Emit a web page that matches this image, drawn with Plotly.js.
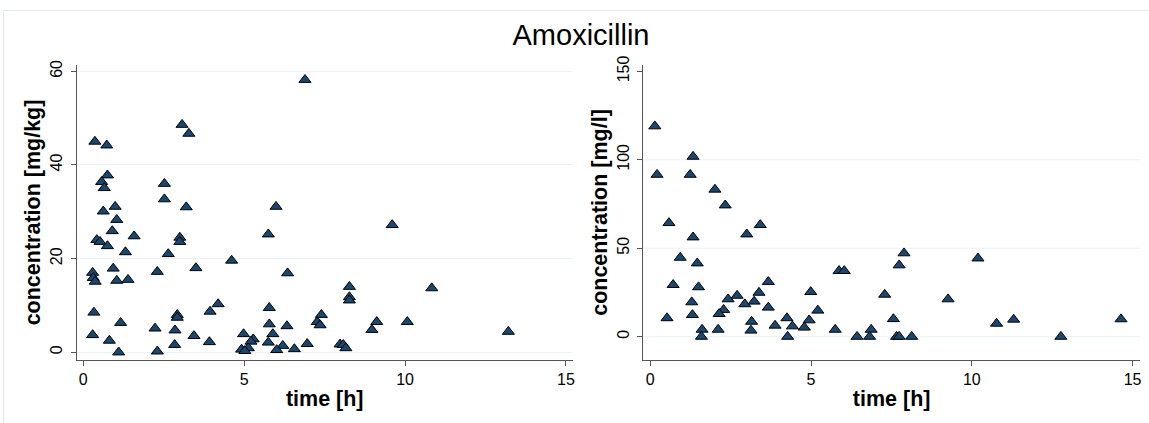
<!DOCTYPE html>
<html>
<head>
<meta charset="utf-8">
<script src="https://cdn.plot.ly/plotly-3.0.1.min.js"></script>
<style>
  html, body { margin: 0; padding: 0; background: #ffffff; }
  #chart { width: 1149px; height: 423px; }
</style>
</head>
<body>
<div id="chart"></div>
<script>
// Amoxicillin concentration over time: tissue (mg/kg) and plasma (mg/l)
const tissueTime = [
  0.36, 0.73, 0.75, 0.57, 0.65, 0.99, 0.62, 1.04, 0.90, 1.58,
  0.42, 0.52, 0.75, 1.31, 0.93, 0.29, 0.31, 0.37, 1.04, 1.39,
  0.33, 0.29, 0.81, 1.16, 1.10, 2.30, 2.52, 2.52, 2.64, 3.07,
  3.28, 3.20, 3.00, 3.00, 3.50, 4.61, 2.23, 2.30, 2.85, 2.92,
  2.92, 2.84, 3.44, 3.94, 4.19, 3.92, 5.99, 5.75, 9.60, 6.35,
  8.27, 8.27, 8.27, 5.78, 7.40, 7.27, 7.36, 9.12, 8.97, 10.07,
  5.78, 6.33, 5.89, 5.75, 6.20, 6.01, 6.56, 6.96, 7.98, 8.08,
  8.16, 4.98, 5.28, 5.21, 5.13, 4.92, 5.02, 6.89, 10.83, 13.21
];
const tissueConc = [
  45.0, 44.2, 37.8, 36.4, 35.1, 31.1, 30.1, 28.3, 25.9, 24.8,
  24.0, 23.6, 22.7, 21.4, 17.9, 17.0, 15.9, 15.1, 15.3, 15.5,
  8.5, 3.7, 2.5, 6.3, 0.0, 17.2, 36.0, 32.7, 21.0, 48.6,
  46.7, 31.0, 24.5, 23.6, 18.0, 19.6, 5.1, 0.2, 4.7, 8.0,
  7.4, 1.6, 3.5, 8.7, 10.3, 2.2, 31.1, 25.2, 27.2, 16.9,
  14.0, 11.8, 11.1, 9.5, 8.0, 6.5, 5.8, 6.5, 4.8, 6.5,
  6.0, 5.6, 3.9, 2.1, 1.4, 0.5, 0.7, 1.8, 1.7, 1.6,
  0.9, 3.9, 2.8, 2.3, 0.9, 0.6, 0.3, 58.2, 13.7, 4.4
];

const plasmaTime = [
  0.14, 1.33, 0.21, 1.24, 2.01, 2.33, 0.58, 3.42, 3.00, 1.33,
  0.93, 1.46, 5.87, 6.03, 3.67, 0.71, 1.50, 7.29, 4.99, 3.38,
  2.70, 2.42, 1.29, 2.94, 3.23, 2.28, 2.14, 3.67, 5.21, 1.31,
  0.52, 3.15, 4.25, 4.94, 3.88, 4.42, 4.79, 1.61, 2.11, 3.13,
  5.75, 6.87, 1.59, 4.27, 6.43, 6.82, 7.56, 7.89, 7.74, 9.26,
  10.19, 7.66, 7.74, 8.13, 10.77, 11.30, 12.77, 14.64
];
const plasmaConc = [
  119.0, 101.8, 91.6, 91.6, 83.2, 74.3, 64.3, 63.2, 57.9, 56.2,
  44.7, 41.5, 37.2, 37.2, 31.0, 29.3, 28.0, 23.8, 25.3, 24.9,
  23.2, 21.2, 19.5, 18.4, 19.9, 15.2, 12.9, 16.5, 14.8, 12.3,
  10.5, 8.5, 10.5, 9.3, 6.3, 5.9, 5.2, 4.0, 4.0, 3.5,
  4.0, 4.0, 0.0, 0.0, 0.0, 0.0, 10.0, 47.2, 40.4, 21.2,
  44.3, 0.0, 0.0, 0.0, 7.4, 9.7, 0.0, 9.9
];

// Tick labels
const timeTicks = [0, 5, 10, 15];
const tissueTicks = [0, 20, 40, 60];
const plasmaTicks = [0, 50, 100, 150];
const plasmaGrid = [0, 50, 100];

const chartTitle = 'Amoxicillin';
const timeLabel = 'time [h]';
const tissueLabel = 'concentration [mg/kg]';
const plasmaLabel = 'concentration [mg/l]';

// ---- geometry and styling ----
const W = 1149, H = 423;
const fx = p => p / W;           // pixel column -> paper x
const fy = p => 1 - p / H;       // pixel row -> paper y

const FONT = 'Liberation Sans, Arial, Helvetica, sans-serif';
const NAVY = '#1a476f';
const AXIS = '#555555';
const GRID = '#eaf2f3';

const marker = {
  symbol: 'triangle-up',
  size: 10.5,
  color: NAVY,
  line: { color: '#000000', width: 1 }
};

const baseAxis = {
  showline: true, linecolor: AXIS, linewidth: 1,
  ticks: 'outside', ticklen: 5, tickwidth: 1, tickcolor: AXIS,
  tickfont: { family: FONT, size: 16, color: '#000000' },
  zeroline: false, automargin: false, fixedrange: true
};
const titleFont = { family: FONT, size: 21.5, color: '#000000', weight: 'bold' };

const xDomL = [fx(76.7), fx(572.7)];
const xDomR = [fx(643.3), fx(1140)];
const yDom = [fy(360), fy(65)];

const traces = [
  { type: 'scatter', mode: 'markers', x: tissueTime, y: tissueConc,
    xaxis: 'x', yaxis: 'y', marker: marker, hoverinfo: 'x+y' },
  { type: 'scatter', mode: 'markers', x: plasmaTime, y: plasmaConc,
    xaxis: 'x2', yaxis: 'y2', marker: marker, hoverinfo: 'x+y' }
];

// horizontal guides for the plasma panel (none at the top label)
const shapes = plasmaGrid.map(v => ({
  type: 'line', layer: 'below',
  xref: 'x2 domain', x0: 0, x1: 1,
  yref: 'y2', y0: v, y1: v,
  line: { color: GRID, width: 1 }
}));
// light outer frame of the graph region
shapes.push(
  { type: 'line', xref: 'paper', yref: 'paper', layer: 'below',
    x0: fx(3), x1: 1.01, y0: fy(10.5), y1: fy(10.5),
    line: { color: '#e3ebeb', width: 1 } },
  { type: 'line', xref: 'paper', yref: 'paper', layer: 'below',
    x0: fx(3.5), x1: fx(3.5), y0: -0.01, y1: fy(10.5),
    line: { color: '#e3ebeb', width: 1 } }
);

const layout = {
  width: W, height: H,
  margin: { l: 0, r: 0, t: 0, b: 0, pad: 0 },
  paper_bgcolor: '#ffffff', plot_bgcolor: '#ffffff',
  showlegend: false,
  font: { family: FONT, color: '#000000' },
  title: {
    text: chartTitle,
    font: { family: FONT, size: 29, color: '#000000' },
    x: fx(581), xref: 'container', xanchor: 'center',
    y: fy(34.8), yref: 'container', yanchor: 'middle'
  },
  xaxis: Object.assign({}, baseAxis, {
    domain: xDomL, anchor: 'y', range: [-0.205, 15.21],
    tickvals: timeTicks, showgrid: false,
    title: { text: timeLabel, font: titleFont, standoff: 3 }
  }),
  yaxis: Object.assign({}, baseAxis, {
    domain: yDom, anchor: 'x', range: [-1.65, 61.35],
    tickvals: tissueTicks, tickangle: -90, ticklabelstandoff: 2,
    showgrid: true, gridcolor: GRID, gridwidth: 1,
    title: { text: tissueLabel, font: titleFont, standoff: 1 }
  }),
  xaxis2: Object.assign({}, baseAxis, {
    domain: xDomR, anchor: 'y2', range: [-0.218, 15.23],
    tickvals: timeTicks, showgrid: false,
    title: { text: timeLabel, font: titleFont, standoff: 3 }
  }),
  yaxis2: Object.assign({}, baseAxis, {
    domain: yDom, anchor: 'x2', range: [-13.2, 153.6],
    tickvals: plasmaTicks, tickangle: -90, ticklabelstandoff: 2, showgrid: false,
    title: { text: plasmaLabel, font: titleFont, standoff: 1 }
  }),
  shapes: shapes
};

Plotly.newPlot('chart', traces, layout, { displayModeBar: false, staticPlot: true });
</script>
</body>
</html>
